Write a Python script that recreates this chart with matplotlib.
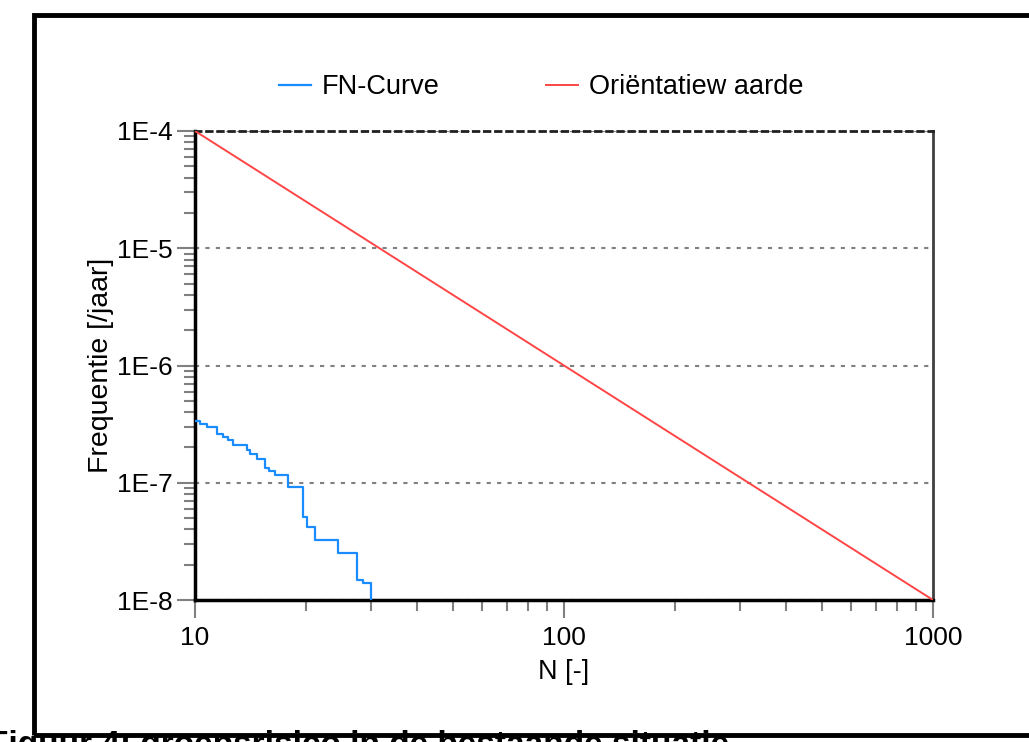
import numpy as np
import matplotlib
matplotlib.use("Agg")
from matplotlib import pyplot as plt
from matplotlib.patches import Rectangle

plt.rcParams['font.family'] = ['Liberation Sans', 'DejaVu Sans']

# FN curve (step curve)
fn_n = [10.0, 10.3, 10.75, 11.5, 11.9, 12.3, 12.7, 13.8, 14.1, 14.7, 15.5,
        15.9, 16.5, 17.9, 19.6, 20.1, 21.1, 24.4, 27.4, 28.5, 30.0]
fn_f = [3.35e-7, 3.2e-7, 3.0e-7, 2.6e-7, 2.45e-7, 2.3e-7, 2.1e-7, 1.9e-7, 1.76e-7,
        1.6e-7, 1.34e-7, 1.25e-7, 1.16e-7, 9.2e-8, 5.1e-8, 4.2e-8, 3.25e-8,
        2.5e-8, 1.48e-8, 1.4e-8, 1.0e-8]

# orientation value line
ow_n = [10, 1000]
ow_f = [1e-4, 1e-8]

x_ticks = [10, 100, 1000]
x_labels = ["10", "100", "1000"]
y_ticks = [1e-8, 1e-7, 1e-6, 1e-5, 1e-4]
y_labels = ["1E-8", "1E-7", "1E-6", "1E-5", "1E-4"]

fig = plt.figure(figsize=(10.29, 7.42), dpi=100)

# outer frame of the screenshot
fig.patches.append(Rectangle((34 / 1029, 1 - 735 / 742), 1.2, (735 - 15) / 742,
                             transform=fig.transFigure, fill=False,
                             edgecolor="black", linewidth=3.5, zorder=5))

ax = fig.add_axes([195 / 1029, 1 - 600 / 742, (933 - 195) / 1029, (600 - 131) / 742])

ax.step(fn_n, fn_f, where="post", color="#1a8cff", linewidth=1.6, label="FN-Curve", zorder=3)
ax.plot(ow_n, ow_f, color="#ff4545", linewidth=1.4, label="Oriëntatiew aarde", zorder=3)

ax.set_xscale("log")
ax.set_yscale("log")
ax.set_xlim(10, 1000)
ax.set_ylim(1e-8, 1e-4)
ax.set_xticks(x_ticks)
ax.set_xticklabels(x_labels)
ax.set_yticks(y_ticks)
ax.set_yticklabels(y_labels)

ax.tick_params(which="major", direction="out", length=13, width=1.5, color="#808080",
               labelsize=19, pad=3)
ax.tick_params(which="minor", direction="out", length=8, width=1.5, color="#808080")
ax.tick_params(axis="x", which="major", pad=6)

ax.yaxis.grid(True, which="major", linestyle=(0, (2, 3)), color="#808080", linewidth=1.5)

for side in ["left", "bottom"]:
    ax.spines[side].set_linewidth(2.5)
    ax.spines[side].set_color("black")
ax.spines["right"].set_linewidth(2)
ax.spines["right"].set_color("#404040")
ax.spines["top"].set_linestyle((0, (2, 2)))
ax.spines["top"].set_linewidth(2)
ax.spines["top"].set_color("#202020")

ax.set_xlabel("N [-]", fontsize=19.5, labelpad=6)
ax.set_ylabel("Frequentie [/jaar]", fontsize=20.5, labelpad=2)

ax.legend(loc="lower center", bbox_to_anchor=(0.469, 1.014), ncol=2, frameon=False,
          fontsize=19.5, handlelength=1.2, columnspacing=3.9, handletextpad=0.4)

# caption cut off at the bottom of the screenshot
fig.text(-0.012, 1 - 730 / 742, "Figuur 4: groepsrisico in de bestaande situatie",
         fontsize=24, fontweight="bold", va="top", ha="left")

fig.savefig("out.png", dpi=100)
